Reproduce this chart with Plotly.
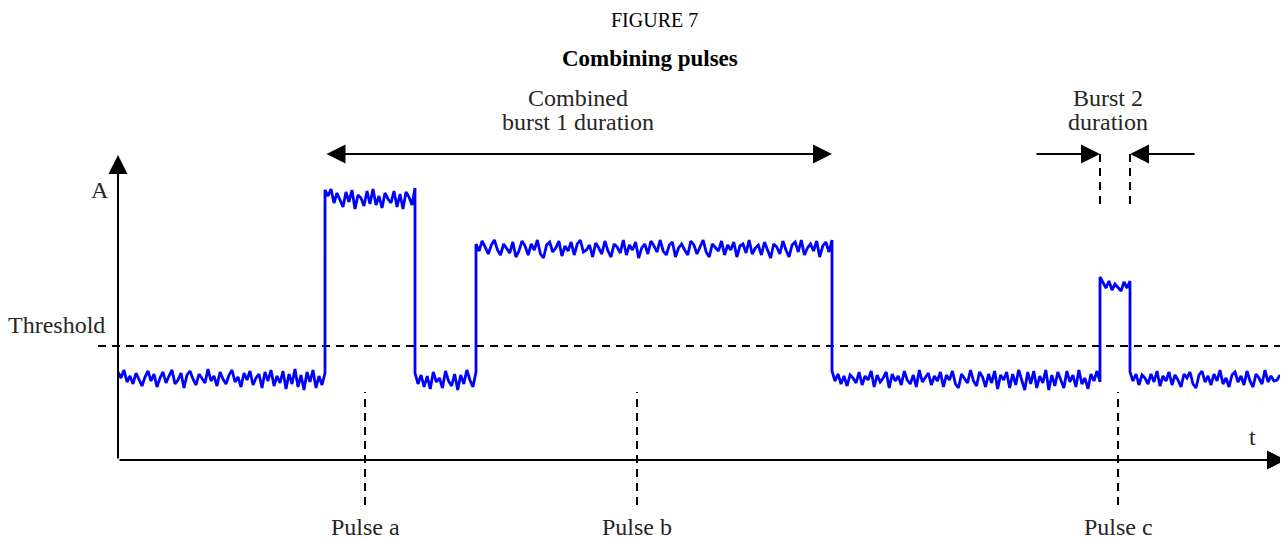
import numpy as np
import plotly.graph_objects as go

# time / amplitude in arbitrary units (origin = axes corner)
seg_start = [0, 207, 297, 358, 714, 982, 1012]
seg_end = [207, 297, 358, 714, 982, 1012, 1162]
seg_level = [82, 261, 82, 212, 82, 176, 82]

noise_low1 = [6, 0, 8, -4, 2, -6, 5, -2, -8, 1, 7, -3, 4, -9, 0, 6, -5, 2, 8, -6, -2, 5, -10, 3, 7, -1, -7, 4,
              0, -5, 9, -3, 2, -8, 6, -1, -6, 3, 8, -4, 1, -9, 5, -2, 7, -7, 0, 4, -10, 6, -3, 8, -8, 2, -5, 7,
              -11, 4, -6, 9, -9, 3, -12, 6, -4, 8, -10, 2, -7, 5]
noise_a = [9, 3, 10, -4, 6, -1, -8, 7, -3, 9, -10, 4, 1, -7, 8, -5, 10, -6, 3, -9, 6, 0, -4, 8, -8, 5, -10, 7,
           2, -6, 11]
noise_low2 = [5, -6, 3, -9, 2, -11, 6, -4, 0, -10, 7, -3, -8, 4, -12, 3, -6, 8, -2, -9, 6]
noise_b = [4, -3, 7, 1, -6, 3, 8, -2, -7, 4, 0, -5, 6, -9, -3, 7, 2, -7, 4, -2, 8, -6, -10, 3, 6, -4, 0, 7, -8,
           2, -3, 6, -7, 4, 8, -4, -2, 3, -9, 5, 0, -6, 7, -3, -9, 4, 1, -5, 8, -7, 3, -2, 6, -10, 0, 4, -6, 7,
           2, -4, 8, -3, -7, 3, 6, -9, 0, 4, -2, -7, 7, 3, -6, 1, 8, -4, -9, 4, 0, -3, 7, -7, 3, -2, 6, -9, 2,
           4, -5, 8, -6, 0, 3, -7, 6, -3, -10, 4, 1, -6, 7, -2, -9, 3, 6, -4, 8, -7, 0, 4, -3, 7, -9, 2, 6, -4, 8]
noise_low3 = [7, -3, 4, -6, 2, -8, 3, 0, -5, 6, -7, 2, -2, 7, -9, 3, -4, 0, 6, -10, 4, -3, 2, -7, 7, -2, -6, 3,
              -9, 8, -4, 0, 5, -7, 2, -3, 6, -9, 3, -2, 7, -6, -10, 4, 0, -5, 8, -3, -8, 6, 1, -9, 4, -5, 7, -11,
              3, -2, 6, -10, 4, -7, 8, -3, -12, 6, -6, 7, -10, 2, -5, 8, -12, 3, -8, 6, -2, -10, 7, -4, 3, -9, 8,
              -6, 0, -11, 4, -3, 7, -4]
noise_c = [7, 2, -4, 3, -6, 0, -3, -7, 2, -4, 3]
noise_low4 = [6, -3, 4, -7, 3, 0, -6, 4, -4, 7, -8, 2, -3, 6, -7, 3, -2, -9, 4, 0, 6, -6, -10, 3, 7, -4, 2, -7,
              4, -3, 8, -6, 0, -9, 3, 6, -4, 2, -7, 7, -3, -9, 4, 0, -6, 8, -4, 2, -3, -2, 3]
seg_noise = [noise_low1, noise_a, noise_low2, noise_b, noise_low3, noise_c, noise_low4]

threshold = 114
t_max, a_max = 1168, 305
pulse_t = [247, 519, 1000]
pulse_labels = ["Pulse a", "Pulse b", "Pulse c"]
burst1 = [207, 714]
burst2 = [982, 1012]
burst2_tails = [917, 1078]
arrow_a = 306

FONT = "Liberation Serif, Times New Roman, serif"
TXT = "#262626"

sig_t, sig_a = [], []
for s, e, lv, nz in zip(seg_start, seg_end, seg_level, seg_noise):
    sig_t += list(np.linspace(s, e, len(nz)))
    sig_a += [lv + v for v in nz]

fig = go.Figure()

dash = dict(color="black", width=2, dash="8px,6px")

# threshold
fig.add_trace(go.Scatter(x=[-20, t_max], y=[threshold, threshold], mode="lines", line=dash, hoverinfo="skip"))

# pulse markers
for p in pulse_t:
    fig.add_trace(go.Scatter(x=[p, p], y=[-45, 68], mode="lines", line=dash, hoverinfo="skip"))

# burst 2 edges
for b in burst2:
    fig.add_trace(go.Scatter(x=[b, b], y=[256, arrow_a], mode="lines", line=dash, hoverinfo="skip"))

# signal
fig.add_trace(go.Scatter(x=sig_t, y=sig_a, mode="lines",
                         line=dict(color="#0000ff", width=2.8), hoverinfo="skip"))

arrow_kw = dict(xref="x", yref="y", axref="x", ayref="y", text="", showarrow=True,
                arrowhead=2, arrowsize=1.9, arrowwidth=2, arrowcolor="black", standoff=0)

# axes
fig.add_annotation(x=0, y=a_max, ax=0, ay=0, **arrow_kw)
fig.add_annotation(x=t_max, y=0, ax=0, ay=0, **arrow_kw)

# burst 1 double arrow
fig.add_annotation(x=burst1[1], y=arrow_a, ax=burst1[0], ay=arrow_a, arrowside="end+start", **arrow_kw)
# burst 2 inward arrows
fig.add_annotation(x=burst2[0], y=arrow_a, ax=burst2_tails[0], ay=arrow_a, **arrow_kw)
fig.add_annotation(x=burst2[1], y=arrow_a, ax=burst2_tails[1], ay=arrow_a, **arrow_kw)


def label(x, y, s, size=24, xanchor="center", bold=False, color=TXT):
    fig.add_annotation(x=x, y=y, xref="x", yref="y", text=f"<b>{s}</b>" if bold else s,
                       showarrow=False, xanchor=xanchor, yanchor="middle",
                       font=dict(family=FONT, size=size, color=color))


label(536, 440, "FIGURE 7", size=20, color="black")
label(532, 402, "Combining pulses", size=23, bold=True, color="black")
label(460, 362, "Combined")
label(460, 338, "burst 1 duration")
label(990, 362, "Burst 2")
label(990, 338, "duration")
label(-18, 270, "A")
label(-11, 135, "Threshold", xanchor="right")
label(1134, 23, "t")
for p, s in zip(pulse_t, pulse_labels):
    label(p, -67, s)

# page body adds an 8px offset, so the figure is 8px smaller and ranges start 8px in
fig.update_layout(
    width=1280, height=532,
    margin=dict(l=0, r=0, t=0, b=0),
    plot_bgcolor="white", paper_bgcolor="white",
    showlegend=False,
    xaxis=dict(range=[-110, 1170], visible=False, fixedrange=True),
    yaxis=dict(range=[-80, 452], visible=False, fixedrange=True),
)

fig.write_html("out.html")
